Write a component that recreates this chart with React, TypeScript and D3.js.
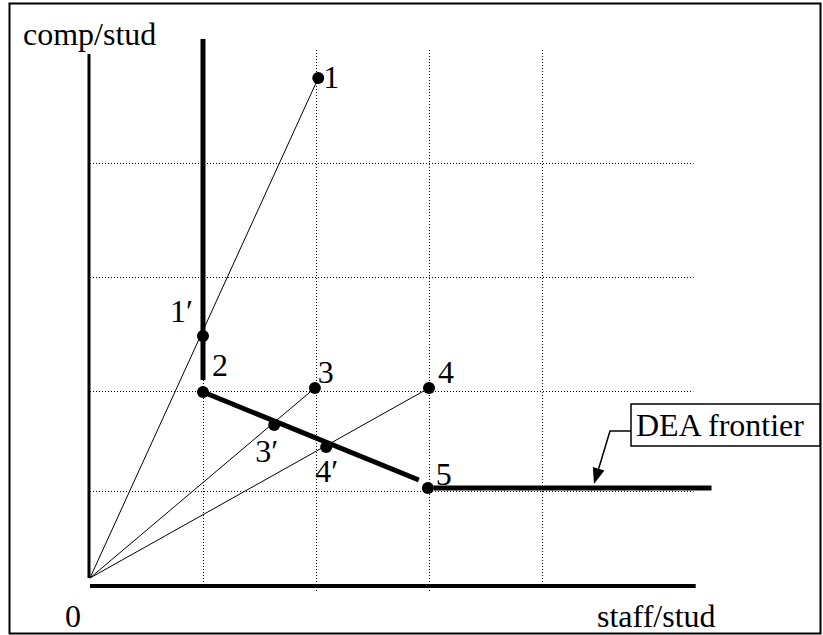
import React from "react";
import * as d3 from "d3";

// ---- data ----
const pointNames = ["1", "1′", "2", "3", "4", "5", "3′", "4′"];
const pointX = [2.02, 1.0, 1.0, 1.99, 3.0, 2.99, 1.63, 2.09];
const pointY = [5.0, 2.42, 1.86, 1.9, 1.9, 0.9, 1.53, 1.31];
// label offsets in px relative to the point
const labelDX = [5, -33, 9, 3, 9, 8, -19, -11];
const labelDY = [10, -14, -16, -5, -5, -3, 37, 35];

// rays from the origin to these units
const rayTargets = ["1", "3", "4"];

// DEA frontier pieces
const frontierX1 = [1.0, 1.0, 3.04];
const frontierY1 = [5.39, 1.86, 0.9];
const frontierX2 = [1.0, 2.91, 5.5];
const frontierY2 = [1.98, 0.98, 0.9];

const xGrid = [1, 2, 3, 4];
const yGrid = [0.87, 1.87, 3.01, 4.15];

const xAxisEnd = 5.36;
const yAxisEnd = 5.24;
const gridXEnd = 5.34;

const W = 823;
const H = 635;
const FONT = "'Liberation Serif', 'Times New Roman', 'DejaVu Serif', serif";
const FS = 32;

export default function App() {
  const x = d3.scaleLinear().domain([0, 5]).range([90, 90 + 565]);
  const y = d3.scaleLinear().domain([0, 5]).range([578, 78]);

  const idx = (n: string) => pointNames.indexOf(n);
  const vGridBottom = [590, 593, 593, 582];

  // arrow for callout
  const arrowFrom = [610, 431];
  const arrowTip = [594, 484];
  const ang = Math.atan2(arrowTip[1] - arrowFrom[1], arrowTip[0] - arrowFrom[0]);
  const ah = 16;
  const aw = 6;
  const baseX = arrowTip[0] - ah * Math.cos(ang);
  const baseY = arrowTip[1] - ah * Math.sin(ang);
  const arrowPts = [
    [arrowTip[0], arrowTip[1]],
    [baseX + aw * Math.sin(ang), baseY - aw * Math.cos(ang)],
    [baseX - aw * Math.sin(ang), baseY + aw * Math.cos(ang)],
  ]
    .map((p) => p.join(","))
    .join(" ");

  return (
    <svg
      width={W}
      height={H}
      style={{ position: "absolute", left: 0, top: 0, background: "#fff" }}
      fontFamily={FONT}
    >
      <rect x={0} y={0} width={W} height={H} fill="#fff" />
      {/* outer frame */}
      <rect x={9.5} y={3.5} width={811} height={630} fill="none" stroke="#000" strokeWidth={2} />

      {/* grid */}
      {yGrid.map((g, i) => (
        <line
          key={"hy" + i}
          x1={x(0)}
          x2={x(gridXEnd)}
          y1={Math.round(y(g)) + 0.5}
          y2={Math.round(y(g)) + 0.5}
          stroke="#000"
          strokeWidth={1}
          strokeDasharray="1,2"
        />
      ))}
      {xGrid.map((g, i) => (
        <line
          key={"vx" + i}
          x1={Math.round(x(g)) + 0.5}
          x2={Math.round(x(g)) + 0.5}
          y1={50}
          y2={vGridBottom[i]}
          stroke="#000"
          strokeWidth={1}
          strokeDasharray="1,2"
        />
      ))}

      {/* rays */}
      {rayTargets.map((n) => {
        const i = idx(n);
        return (
          <line
            key={"ray" + n}
            x1={x(0)}
            y1={y(0)}
            x2={x(pointX[i])}
            y2={y(pointY[i])}
            stroke="#000"
            strokeWidth={1}
          />
        );
      })}

      {/* axes */}
      <line x1={x(0) - 1} x2={x(0) - 1} y1={y(yAxisEnd)} y2={y(0)} stroke="#000" strokeWidth={3} />
      <line x1={x(0)} x2={x(xAxisEnd)} y1={y(0) + 8} y2={y(0) + 8} stroke="#000" strokeWidth={4} />

      {/* frontier */}
      {frontierX1.map((_, i) => (
        <line
          key={"f" + i}
          x1={x(frontierX1[i])}
          y1={y(frontierY1[i])}
          x2={x(frontierX2[i])}
          y2={y(frontierY2[i])}
          stroke="#000"
          strokeWidth={5}
        />
      ))}

      {/* points */}
      {pointNames.map((n, i) => (
        <circle key={"p" + n} cx={x(pointX[i])} cy={y(pointY[i])} r={6} fill="#000" />
      ))}
      {pointNames.map((n, i) => (
        <text
          key={"l" + n}
          x={x(pointX[i]) + labelDX[i]}
          y={y(pointY[i]) + labelDY[i]}
          fontSize={FS}
          fill="#000"
        >
          {n}
        </text>
      ))}

      {/* axis titles */}
      <text x={23} y={45} fontSize={FS}>comp/stud</text>
      <text x={597} y={627} fontSize={FS}>staff/stud</text>
      <text x={65} y={627} fontSize={FS}>0</text>

      {/* callout */}
      <rect x={631} y={404} width={189} height={42} fill="#fff" stroke="#000" strokeWidth={1.5} />
      <text x={636} y={436} fontSize={FS}>DEA frontier</text>
      <polyline
        points={`631,431 ${arrowFrom[0]},${arrowFrom[1]} ${baseX},${baseY}`}
        fill="none"
        stroke="#000"
        strokeWidth={1.5}
      />
      <polygon points={arrowPts} fill="#000" />
    </svg>
  );
}
